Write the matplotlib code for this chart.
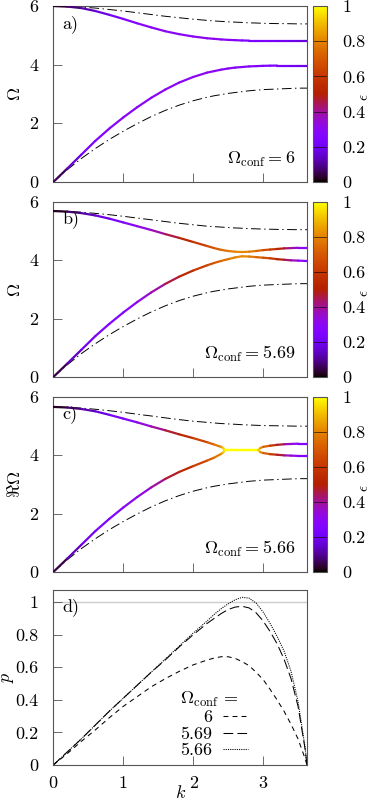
import numpy as np
import matplotlib
matplotlib.use('Agg')
import matplotlib.pyplot as plt
from matplotlib.collections import LineCollection
from matplotlib.cm import ScalarMappable
from matplotlib.colors import Normalize

plt.rcParams['font.family'] = 'serif'
plt.rcParams['font.serif'] = ['cmr10']
plt.rcParams['mathtext.fontset'] = 'cm'
plt.rcParams['axes.formatter.use_mathtext'] = True
plt.rcParams['font.size'] = 13
plt.rcParams['lines.scale_dashes'] = False

# wave number grid (panels a, b, d)
k = [0, 0.2, 0.4, 0.6, 0.8, 1.0, 1.2, 1.4, 1.6, 1.8, 2.0, 2.2, 2.3, 2.4, 2.5,
     2.6, 2.7, 2.8, 2.9, 3.0, 3.1, 3.2, 3.3, 3.4, 3.5, 3.6, 3.628]
# finer grid around the exceptional points (panel c)
kc = [0, 0.2, 0.4, 0.6, 0.8, 1.0, 1.2, 1.4, 1.6, 1.8, 2.0, 2.2, 2.3, 2.4, 2.43,
      2.45, 2.5, 2.6, 2.7, 2.8, 2.9, 2.93, 2.96, 3.0, 3.1, 3.2, 3.3, 3.4, 3.5,
      3.6, 3.628]

# uncoupled modes (dash-dot)
bare_low = [0, 0.42, 0.80, 1.14, 1.45, 1.73, 1.99, 2.23, 2.44, 2.62, 2.77, 2.89,
            2.94, 2.98, 3.02, 3.05, 3.08, 3.11, 3.13, 3.15, 3.16, 3.17, 3.18,
            3.19, 3.20, 3.20, 3.20]
bare_up_a = [6.0, 5.99, 5.96, 5.93, 5.88, 5.83, 5.77, 5.71, 5.65, 5.60, 5.55,
             5.51, 5.49, 5.475, 5.46, 5.45, 5.44, 5.425, 5.42, 5.41, 5.405,
             5.40, 5.40, 5.395, 5.39, 5.39, 5.39]
bare_up_b = [5.69, 5.68, 5.65, 5.61, 5.565, 5.51, 5.45, 5.39, 5.33, 5.27, 5.22,
             5.17, 5.155, 5.14, 5.125, 5.11, 5.10, 5.087, 5.08, 5.07, 5.067,
             5.06, 5.058, 5.054, 5.05, 5.05, 5.05]
bare_up_c = [5.66, 5.65, 5.62, 5.58, 5.53, 5.475, 5.41, 5.35, 5.285, 5.225,
             5.17, 5.13, 5.11, 5.09, 5.077, 5.065, 5.05, 5.04, 5.03, 5.02,
             5.017, 5.013, 5.008, 5.004, 5.0, 5.0, 5.0]

# panel a, Omega_conf = 6
low_a = [0, 0.46, 0.93, 1.40, 1.82, 2.20, 2.55, 2.87, 3.15, 3.39, 3.58, 3.73,
         3.78, 3.83, 3.87, 3.90, 3.92, 3.94, 3.95, 3.96, 3.965, 3.97, 3.97,
         3.97, 3.97, 3.97, 3.97]
up_a = [6.0, 5.98, 5.93, 5.83, 5.70, 5.56, 5.41, 5.27, 5.14, 5.04, 4.96, 4.90,
        4.88, 4.86, 4.845, 4.835, 4.825, 4.82, 4.82, 4.82, 4.82, 4.82, 4.82,
        4.82, 4.82, 4.82, 4.82]
eps_low_a = [0, 0.12, 0.2, 0.25, 0.27, 0.28, 0.29, 0.3, 0.3, 0.3, 0.3, 0.3, 0.3,
             0.3, 0.29, 0.29, 0.28, 0.27, 0.26, 0.25, 0.24, 0.23, 0.22, 0.21,
             0.2, 0.18, 0.17]
eps_up_a = [0, 0.05, 0.1, 0.15, 0.2, 0.24, 0.27, 0.29, 0.3, 0.3, 0.3, 0.3, 0.3,
            0.29, 0.28, 0.27, 0.26, 0.25, 0.24, 0.23, 0.22, 0.21, 0.2, 0.19,
            0.18, 0.17, 0.16]

# panel b, Omega_conf = 5.69
low_b = [0, 0.46, 0.93, 1.40, 1.82, 2.21, 2.57, 2.90, 3.19, 3.44, 3.65, 3.83,
         3.91, 3.98, 4.04, 4.10, 4.14, 4.13, 4.11, 4.09, 4.07, 4.04, 4.02, 4.0,
         3.99, 3.98, 3.98]
up_b = [5.69, 5.67, 5.62, 5.54, 5.43, 5.30, 5.17, 5.04, 4.90, 4.77, 4.63, 4.49,
        4.42, 4.36, 4.32, 4.295, 4.285, 4.295, 4.32, 4.35, 4.37, 4.39, 4.41,
        4.42, 4.43, 4.43, 4.43]
eps_low_b = [0, 0.1, 0.18, 0.22, 0.25, 0.27, 0.31, 0.36, 0.42, 0.5, 0.57, 0.65,
             0.69, 0.73, 0.77, 0.8, 0.82, 0.8, 0.76, 0.7, 0.63, 0.55, 0.47, 0.4,
             0.33, 0.26, 0.24]
eps_up_b = [0, 0.05, 0.1, 0.15, 0.2, 0.25, 0.3, 0.35, 0.42, 0.5, 0.57, 0.65,
            0.69, 0.73, 0.77, 0.8, 0.82, 0.8, 0.76, 0.7, 0.63, 0.55, 0.47, 0.4,
            0.33, 0.28, 0.26]

# panel c, Omega_conf = 5.66 (real part)
low_c = [0, 0.46, 0.93, 1.40, 1.82, 2.21, 2.57, 2.90, 3.19, 3.43, 3.63, 3.82,
         3.92, 4.05, 4.10, 4.18, 4.18, 4.18, 4.18, 4.18, 4.18, 4.18, 4.11, 4.08,
         4.04, 4.02, 4.0, 3.99, 3.98, 3.98, 3.98]
up_c = [5.66, 5.64, 5.59, 5.51, 5.39, 5.26, 5.13, 4.99, 4.86, 4.72, 4.59, 4.45,
        4.37, 4.29, 4.25, 4.18, 4.18, 4.18, 4.18, 4.18, 4.18, 4.18, 4.25, 4.29,
        4.33, 4.36, 4.38, 4.39, 4.40, 4.40, 4.40]
eps_low_c = [0, 0.1, 0.18, 0.22, 0.25, 0.27, 0.31, 0.36, 0.43, 0.51, 0.59, 0.68,
             0.74, 0.82, 0.88, 1.0, 1.0, 1.0, 1.0, 1.0, 1.0, 1.0, 0.85, 0.78,
             0.65, 0.52, 0.42, 0.34, 0.28, 0.24, 0.23]
eps_up_c = [0, 0.05, 0.1, 0.15, 0.2, 0.25, 0.3, 0.36, 0.43, 0.51, 0.59, 0.68,
            0.74, 0.82, 0.88, 1.0, 1.0, 1.0, 1.0, 1.0, 1.0, 1.0, 0.85, 0.78,
            0.65, 0.52, 0.42, 0.34, 0.28, 0.26, 0.25]

# panel d, p(k)
p_6 = [0, 0.07, 0.145, 0.215, 0.29, 0.36, 0.42, 0.48, 0.53, 0.575, 0.615, 0.645,
       0.657, 0.665, 0.665, 0.655, 0.635, 0.61, 0.57, 0.525, 0.465, 0.40, 0.33,
       0.25, 0.16, 0.04, 0]
p_569 = [0, 0.08, 0.16, 0.245, 0.33, 0.41, 0.49, 0.57, 0.645, 0.725, 0.80, 0.87,
         0.90, 0.93, 0.955, 0.97, 0.975, 0.965, 0.935, 0.885, 0.82, 0.745, 0.65,
         0.53, 0.36, 0.10, 0]
p_566 = [0, 0.08, 0.16, 0.245, 0.33, 0.41, 0.49, 0.57, 0.65, 0.73, 0.81, 0.885,
         0.925, 0.96, 0.99, 1.015, 1.03, 1.025, 0.995, 0.94, 0.87, 0.79, 0.70,
         0.575, 0.39, 0.11, 0]

conf_labels = ['6', '5.69', '5.66']
panel_tags = ['a)', 'b)', 'c)', 'd)']

W, H = 374, 801
norm = Normalize(0, 1)
cmap = plt.get_cmap('gnuplot')
frame = '#555555'


def rect(l, t, r, b):
    return [l / W, 1 - b / H, (r - l) / W, (b - t) / H]


def colorline(ax, x, y, c):
    pts = np.column_stack([x, y])
    segs = np.stack([pts[:-1], pts[1:]], axis=1)
    c = np.asarray(c, dtype=float)
    lc = LineCollection(segs, cmap=cmap, norm=norm, linewidths=1.6,
                        capstyle='round', joinstyle='round', zorder=3)
    lc.set_array((c[:-1] + c[1:]) / 2)
    ax.add_collection(lc)


def style(ax):
    for s in ax.spines.values():
        s.set_color(frame)
        s.set_linewidth(0.8)
    ax.tick_params(direction='in', length=6.5, width=0.6, color=frame,
                   top=False, right=False)
    ax.tick_params(axis='y', pad=11)
    ax.tick_params(axis='x', pad=8)
    ax.set_xlim(0, 3.628)
    ax.set_xticks([0, 1, 2, 3])


fig = plt.figure(figsize=(W / 100, H / 100), dpi=100)

tops = [6, 202, 397, 590]
bots = [182, 377, 572, 765]
x0, x1 = 53.3, 307
dd = (7, 2.5, 1, 2.5)

panels = [
    (low_a, up_a, eps_low_a, eps_up_a, bare_up_a, k, r'$\Omega$', '6'),
    (low_b, up_b, eps_low_b, eps_up_b, bare_up_b, k, r'$\Omega$', '5.69'),
    (low_c, up_c, eps_low_c, eps_up_c, bare_up_c, kc, r'$\Re\Omega$', '5.66'),
]

for i, (lo, up, elo, eup, bup, kk, ylab, conf) in enumerate(panels):
    ax = fig.add_axes(rect(x0, tops[i], x1, bots[i]))
    style(ax)
    ax.plot(k, bare_low, color='k', lw=0.7, dashes=dd)
    ax.plot(k, bup, color='k', lw=0.7, dashes=dd)
    colorline(ax, kk, lo, elo)
    colorline(ax, kk, up, eup)
    ax.set_ylim(0, 6)
    ax.set_yticks([0, 2, 4, 6])
    ax.set_yticklabels(['0', '2', '4', '6'])
    ax.set_xticklabels([])
    ax.set_ylabel(ylab)
    ax.yaxis.set_label_coords(-0.12, 0.5)
    ax.text(0.035, 0.9, panel_tags[i], transform=ax.transAxes, va='center')
    ax.text(0.955, 0.105, r'$\Omega_{\rm conf} = %s$' % conf,
            transform=ax.transAxes, ha='right', va='baseline')

    cax = fig.add_axes(rect(313.3, tops[i], 327, bots[i]))
    cb = fig.colorbar(ScalarMappable(norm=norm, cmap=cmap), cax=cax)
    cb.set_ticks([0, 0.2, 0.4, 0.6, 0.8, 1])
    cb.set_ticklabels(['0', '0.2', '0.4', '0.6', '0.8', '1'])
    cb.outline.set_edgecolor(frame)
    cb.outline.set_linewidth(0.8)
    cax.tick_params(direction='in', length=9.9, width=0.7,
                    color=(0, 0, 0, 0.6), pad=11)
    cb.set_label(r'$\epsilon$', rotation=90, fontsize=11)
    cax.yaxis.set_label_coords(3.25, 0.48)

# panel d
ax = fig.add_axes(rect(x0, tops[3], x1, bots[3]))
style(ax)
ax.axhline(1, color='#cccccc', lw=1, zorder=1)
l1, = ax.plot(k, p_6, color='k', lw=0.75, dashes=(3.5, 3))
l2, = ax.plot(k, p_569, color='k', lw=0.75, dashes=(7, 3))
l3, = ax.plot(k, p_566, color='k', lw=0.75, dashes=(0.8, 0.8))
ax.set_ylim(0, 1.075)
ax.set_yticks([0, 0.2, 0.4, 0.6, 0.8, 1])
ax.set_yticklabels(['0', '0.2', '0.4', '0.6', '0.8', '1'])
ax.set_xticklabels(['0', '1', '2', '3'])
ax.set_xlabel(r'$k$', labelpad=-5)
ax.set_ylabel(r'$p$')
ax.yaxis.set_label_coords(-0.148, 0.5)
ax.text(0.035, 0.9, panel_tags[3], transform=ax.transAxes, va='center')
ax.legend([l1, l2, l3], conf_labels, title=r'$\Omega_{\rm conf}$ =',
          markerfirst=False, frameon=False, loc='upper left',
          bbox_to_anchor=(0.5, 0.43), borderpad=0, handlelength=1.4,
          handletextpad=0.6, labelspacing=0.05, borderaxespad=0,
          alignment='left')

fig.savefig('out.png', dpi=100)
